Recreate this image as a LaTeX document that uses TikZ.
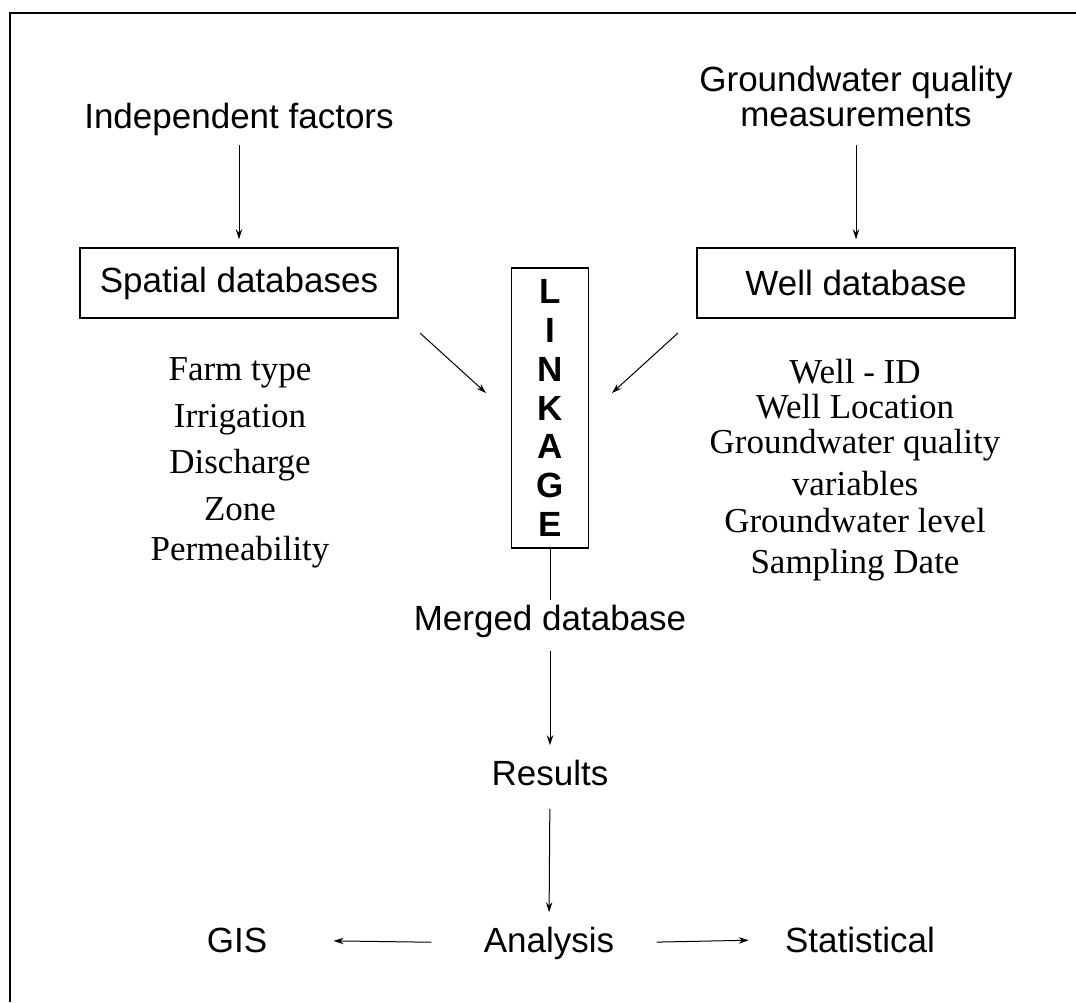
\documentclass[tikz,border=0pt]{standalone}
\usepackage{fontspec}
\setmainfont{Liberation Serif}
\setsansfont{Liberation Sans}
\usetikzlibrary{arrows.meta}

\tikzset{
  head/.style={font=\sffamily\fontsize{17.5}{17.5}\selectfont, inner sep=0pt, align=center},
  dbbox/.style={draw, line width=0.7pt, minimum width=159pt, minimum height=35pt,
    font=\sffamily\fontsize{17.5}{21}\selectfont},
  linkbox/.style={draw, line width=0.7pt, minimum width=38.5pt, minimum height=140pt,
    align=center, font=\sffamily\bfseries\fontsize{17.5}{19.4}\selectfont},
  item/.style={font=\rmfamily\fontsize{17.5}{21}\selectfont, inner sep=0pt, anchor=base},
  arr/.style={-{Stealth[length=5pt,width=3.2pt]}, line width=0.5pt},
}

\begin{document}
\begin{tikzpicture}[x=0.5pt, y=-0.5pt]
\useasboundingbox (0,0) rectangle (1076,1002);
% frame
\draw[line width=0.75pt] (10,1002) |- (1076,13);

% sources
\node[head, anchor=base] (indep) at (239,128) {Independent factors};
\node[head, anchor=south] (gwq) at (856,127) {Groundwater quality\\measurements};

% databases
\node[dbbox] (spatial) at (239,283) {Spatial databases};
\node[dbbox] (well) at (856,283) {Well database};
\node[linkbox] (link) at (550,408) {L\\I\\N\\K\\A\\G\\E};

\draw[arr, shorten <=4.8pt, shorten >=4pt] (indep.south) -- (spatial.north);
\draw[arr, shorten <=9pt, shorten >=4pt] (gwq.south) -- (well.north);

% into the linkage
\coordinate (sp-out) at (420,333);
\coordinate (lk-l) at (486,393);
\coordinate (wl-out) at (678,333);
\coordinate (lk-r) at (612,393);
\draw[arr] (sp-out) -- (lk-l);
\draw[arr] (wl-out) -- (lk-r);

% fields
\foreach \t/\y [count=\i] in {Farm type/380, Irrigation/427, Discharge/473,
  Zone/520, Permeability/560}
  \node[item] (f\i) at (240,\y) {\t};
\foreach \t/\y [count=\i] in {Well - ID/383, Well Location/418,
  Groundwater quality/453, variables/495, Groundwater level/532, Sampling Date/573}
  \node[item] (w\i) at (855,\y) {\t};

% output side
\node[head, anchor=base] (merged) at (550,630) {Merged database};
\node[head, anchor=base] (results) at (550,785) {Results};
\node[head, anchor=base] (analysis) at (549,952) {Analysis};
\node[head, anchor=base] (gis) at (237,952) {GIS};
\node[head, anchor=base] (stat) at (860,952) {Statistical};

\draw[line width=0.5pt, shorten >=2pt] (link.south) -- (merged.north);
\draw[arr, shorten <=6.5pt, shorten >=7pt] (merged.south) -- (results.north);
\draw[arr, shorten <=11.5pt, shorten >=7pt] (results.south) -- (analysis.north);
\draw[arr, shorten <=26pt, shorten >=33pt] (analysis.west) -- (gis.east);
\draw[arr, shorten <=21pt, shorten >=18pt] (analysis.east) -- (stat.west);
\end{tikzpicture}
\end{document}
